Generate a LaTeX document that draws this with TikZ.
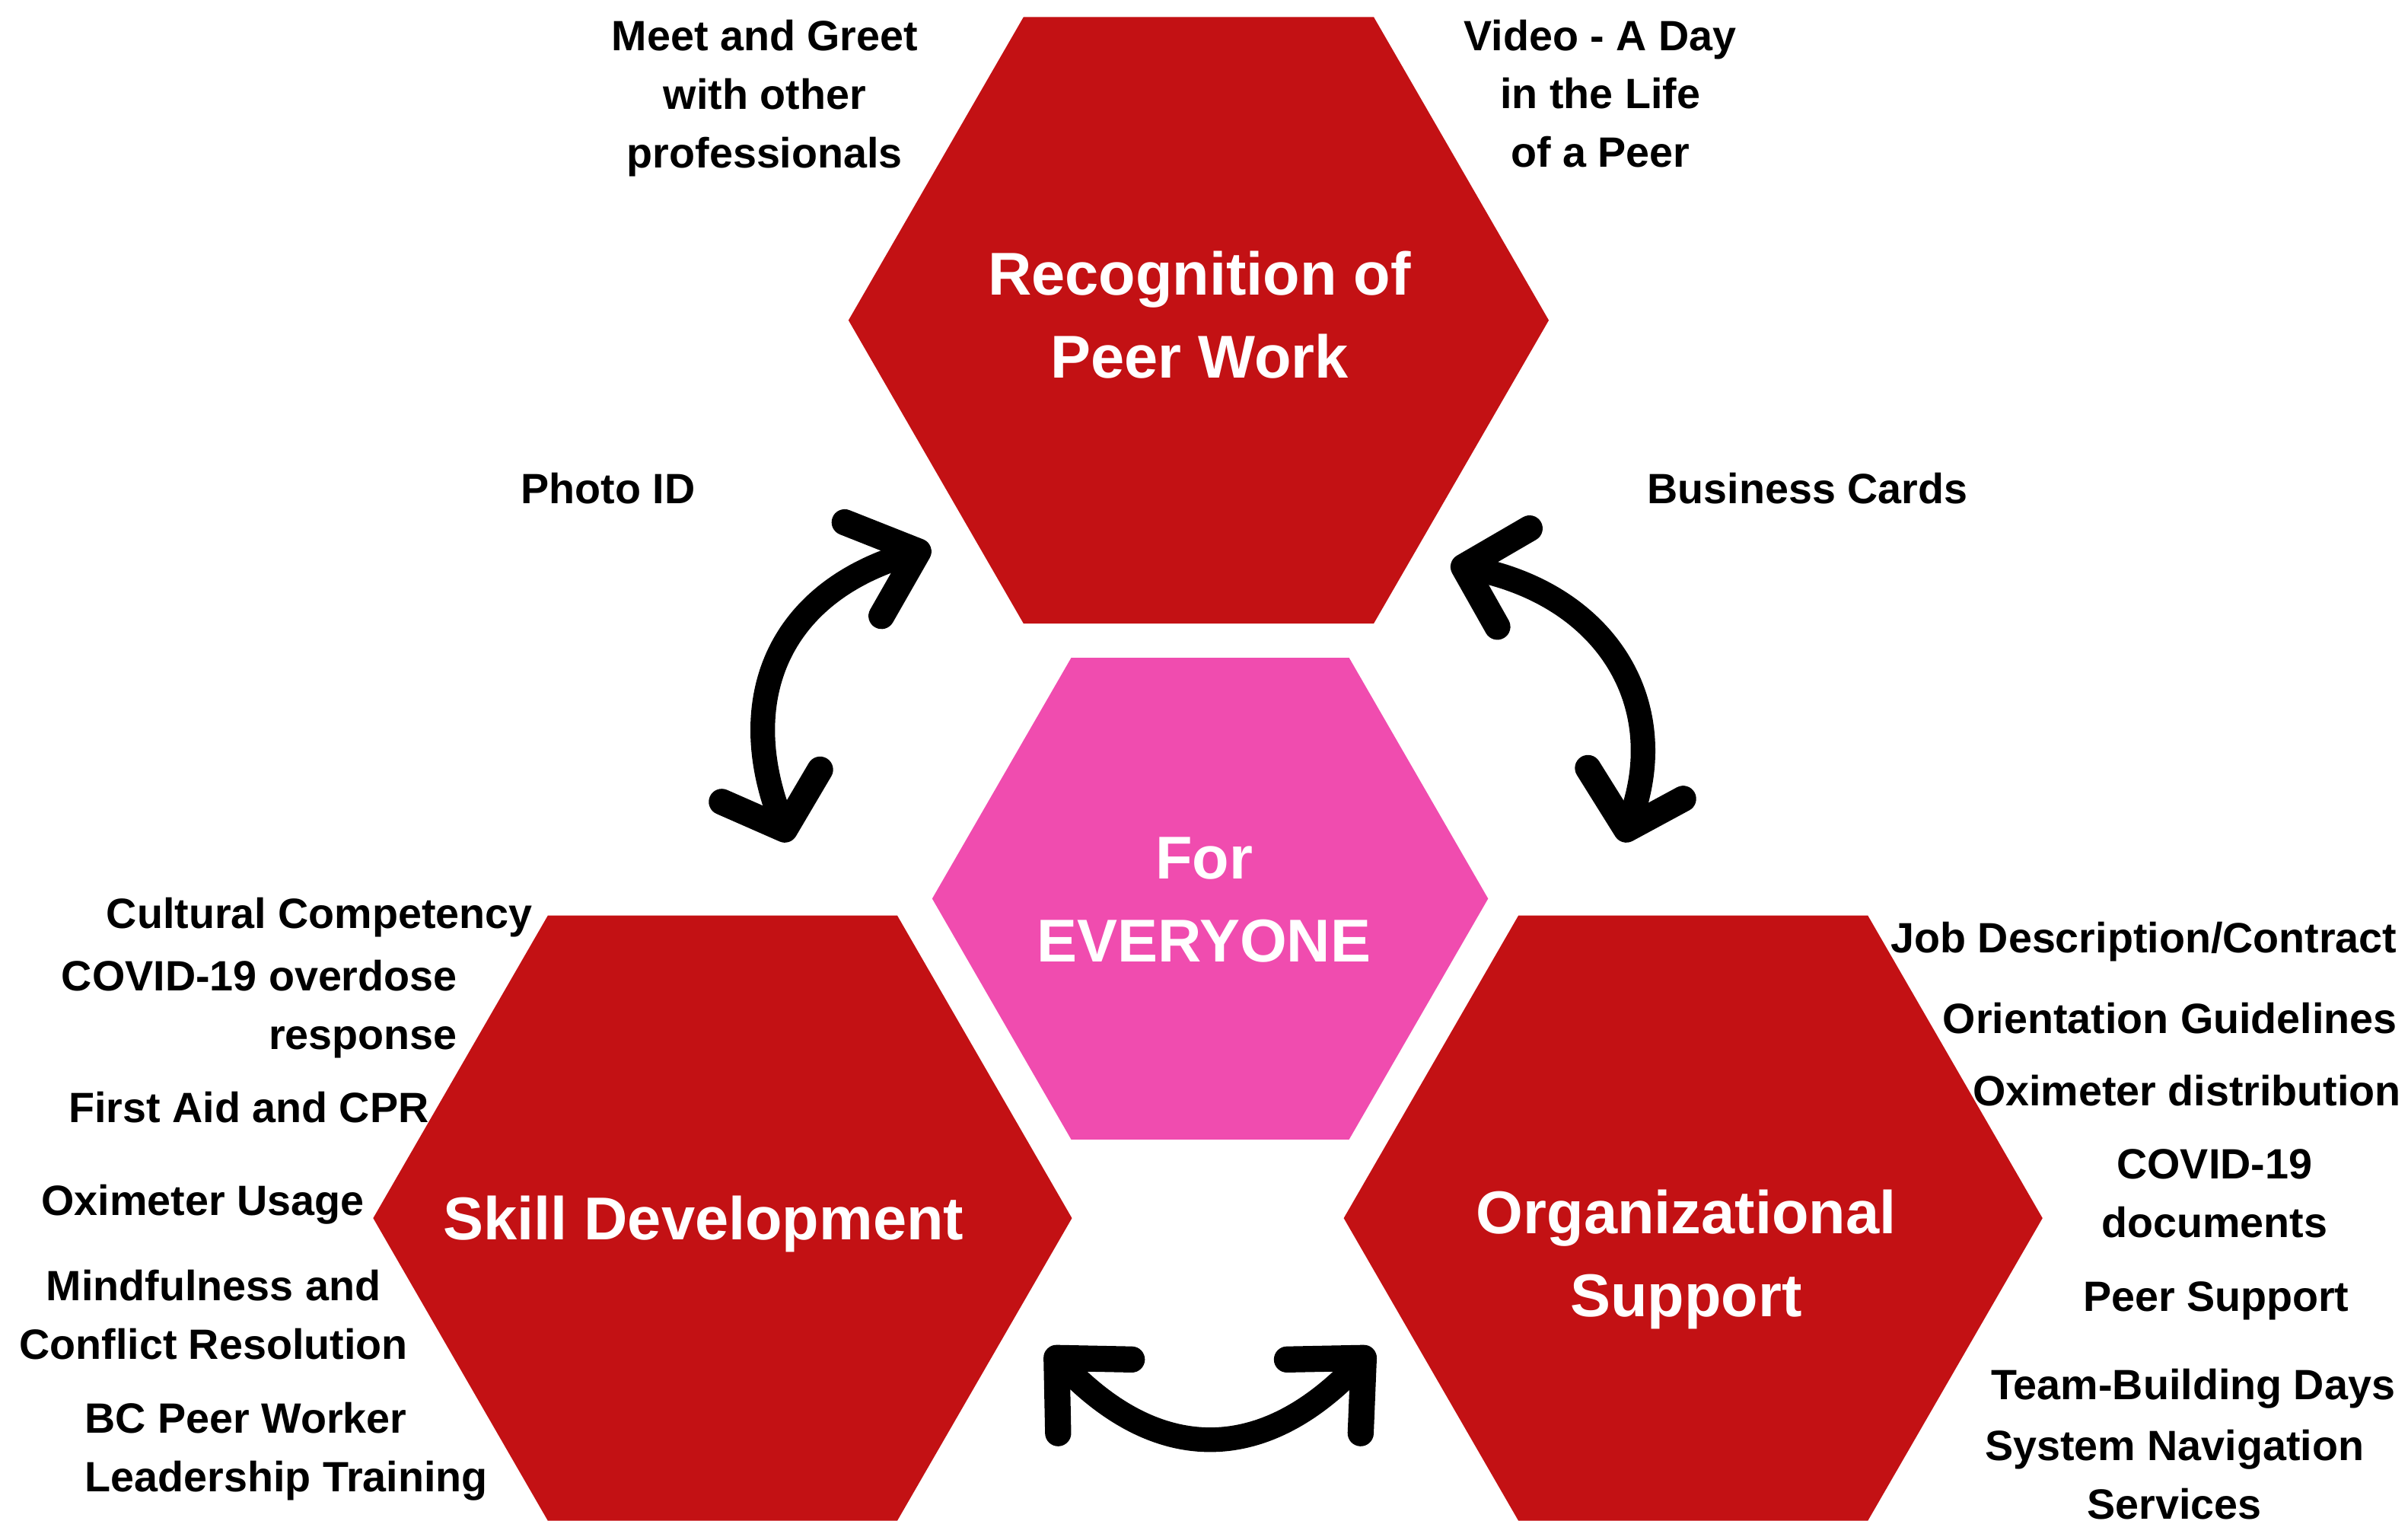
\documentclass[tikz,border=0pt]{standalone}
\usepackage{fontspec}
\setmainfont{Liberation Sans}
\definecolor{hexred}{RGB}{195,17,20}
\definecolor{hexpink}{RGB}{240,76,175}
\begin{document}
\begin{tikzpicture}[x=0.02cm,y=-0.02cm,
  redhex/.style={fill=hexred},
  pinkhex/.style={fill=hexpink},
  hextext/.style={text=white, font=\bfseries\fontsize{22.4}{30.7}\selectfont, align=center, inner sep=0pt},
  item/.style={text=black, font=\bfseries\fontsize{15.7}{21.6}\selectfont, inner sep=0pt},
  curvearrow/.style={line width=0.32cm, line cap=round},
  barb/.style={line width=0.34cm, line cap=round, line join=round}]

\useasboundingbox (0,0) rectangle (1568,990);
\clip (0,0) rectangle (1568,990);

% hexagon centres
\coordinate (crec)   at (780.5,208.5);
\coordinate (cskill) at (470.5,793);
\coordinate (corg)   at (1102.5,793);
\coordinate (call)   at (788,585);

% hexagons
\fill[redhex, shift={(crec)}] (0:228) -- (60:228) -- (120:228) -- (180:228) -- (240:228) -- (300:228) -- cycle;
\fill[redhex, shift={(cskill)}] (0:227.5) -- (60:227.5) -- (120:227.5) -- (180:227.5) -- (240:227.5) -- (300:227.5) -- cycle;
\fill[redhex, shift={(corg)}] (0:227.5) -- (60:227.5) -- (120:227.5) -- (180:227.5) -- (240:227.5) -- (300:227.5) -- cycle;
\fill[pinkhex, shift={(call)}] (0:181) -- (60:181) -- (120:181) -- (180:181) -- (240:181) -- (300:181) -- cycle;

% hexagon titles
\node[hextext] (trec)   at (781,205)  {Recognition of\\Peer Work};
\node[hextext] (tall)   at (784,586)  {For\\EVERYONE};
\node[hextext] (tskill) at (458,797)  {Skill Development};
\node[hextext] (torg)   at (1098,820) {Organizational\\Support};

% items around Recognition of Peer Work
\node[item, align=center] (meet)  at (498,64)   {Meet and Greet\\with other\\professionals};
\node[item, align=center] (video) at (1042,61)  {Video - A Day\\in the Life\\of a Peer};
\node[item] (photo) at (396,318)  {Photo ID};
\node[item] (cards) at (1177,318) {Business Cards};

% items around Skill Development
\node[item] (cult)  at (208,597) {Cultural Competency};
\node[item, align=right, anchor=east] (covid) at (298,657) {COVID-19 overdose\\response};
\node[item] (aid)   at (162,721) {First Aid and CPR};
\node[item] (oxuse) at (132,784) {Oximeter Usage};
\node[item, align=center] (mind) at (139,856) {Mindfulness and\\Conflict Resolution};
\node[item, align=left, anchor=west] (bcpw) at (55,945) {BC Peer Worker\\Leadership Training};

% items around Organizational Support
\node[item] (job)    at (1396,613) {Job Description/Contract};
\node[item] (orient) at (1413,663) {Orientation Guidelines};
\node[item] (oxdist) at (1424,710) {Oximeter distribution};
\node[item, align=center] (cdocs) at (1442,777) {COVID-19\\documents};
\node[item] (peer)   at (1443,847) {Peer Support};
\node[item] (team)   at (1428,904) {Team-Building Days};
\node[item, align=center] (nav) at (1416,960) {System Navigation\\Services};

% left two-way arrow
\coordinate (a1u) at (598,359);
\coordinate (a1l) at (511,540);
\draw[curvearrow] (a1u) .. controls (505,383) and (476,458) .. (a1l);
\draw[barb] (550,340) -- (a1u) -- (574,401);
\draw[barb] (470,522) -- (a1l) -- (534,501);

% right two-way arrow
\coordinate (a2u) at (953,369);
\coordinate (a2l) at (1059,540);
\draw[curvearrow] (a2u) .. controls (1048,385) and (1092,462) .. (a2l);
\draw[barb] (996,344) -- (a2u) -- (975,408);
\draw[barb] (1034,500) -- (a2l) -- (1096,520);

% bottom two-way arrow
\coordinate (a3l) at (688,884);
\coordinate (a3r) at (888,884);
\draw[curvearrow] (a3l) .. controls (752,955) and (824,955) .. (a3r);
\draw[barb] (737,885) -- (a3l) -- (689,933);
\draw[barb] (838,885) -- (a3r) -- (886,933);

\end{tikzpicture}
\end{document}
